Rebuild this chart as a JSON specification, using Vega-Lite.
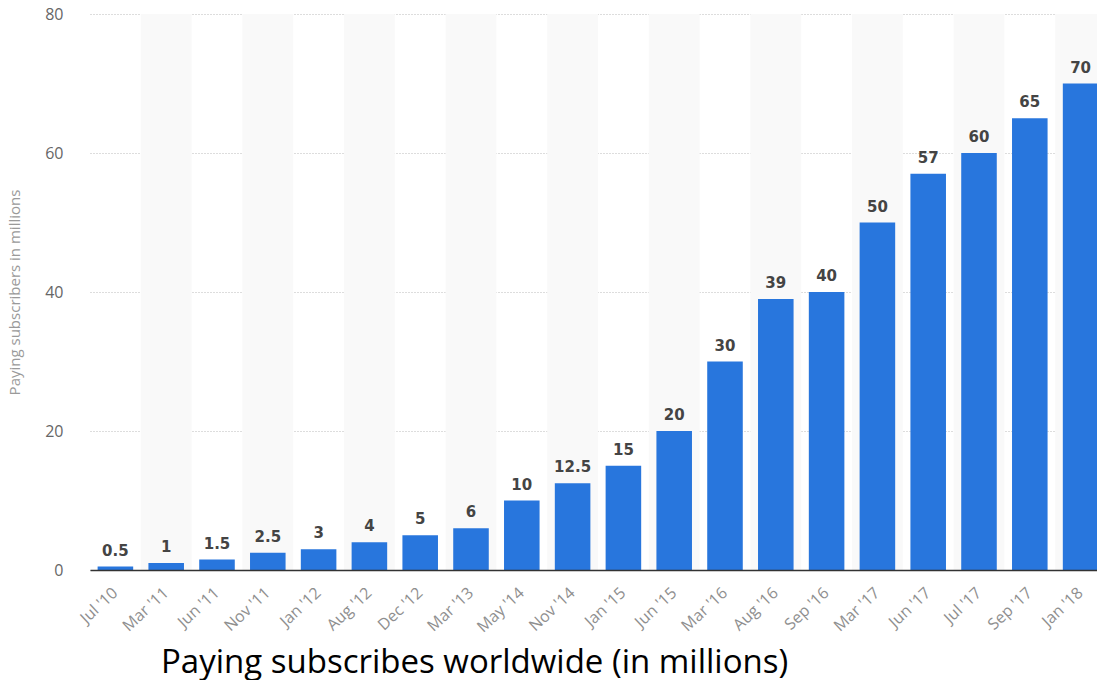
{
  "$schema": "https://vega.github.io/schema/vega-lite/v6.json",
  "width": 1016,
  "height": 556,
  "padding": {"left": 7, "top": 6, "right": 0, "bottom": 0},
  "background": "white",
  "config": {"view": {"stroke": null}},
  "title": {
    "text": "Paying subscribes worldwide (in millions)",
    "orient": "bottom",
    "anchor": "start",
    "frame": "group",
    "dx": 71,
    "offset": 12,
    "font": "Open Sans",
    "fontSize": 33,
    "fontWeight": "normal",
    "color": "#000000"
  },
  "data": {
    "values": [
      {"period": "Jul '10", "subscribers": 0.5},
      {"period": "Mar '11", "subscribers": 1},
      {"period": "Jun '11", "subscribers": 1.5},
      {"period": "Nov '11", "subscribers": 2.5},
      {"period": "Jan '12", "subscribers": 3},
      {"period": "Aug '12", "subscribers": 4},
      {"period": "Dec '12", "subscribers": 5},
      {"period": "Mar '13", "subscribers": 6},
      {"period": "May '14", "subscribers": 10},
      {"period": "Nov '14", "subscribers": 12.5},
      {"period": "Jan '15", "subscribers": 15},
      {"period": "Jun '15", "subscribers": 20},
      {"period": "Mar '16", "subscribers": 30},
      {"period": "Aug '16", "subscribers": 39},
      {"period": "Sep '16", "subscribers": 40},
      {"period": "Mar '17", "subscribers": 50},
      {"period": "Jun '17", "subscribers": 57},
      {"period": "Jul '17", "subscribers": 60},
      {"period": "Sep '17", "subscribers": 65},
      {"period": "Jan '18", "subscribers": 70}
    ]
  },
  "encoding": {
    "x": {
      "field": "period",
      "type": "nominal",
      "sort": null,
      "scale": {
        "domain": ["Jul '10", "Mar '11", "Jun '11", "Nov '11", "Jan '12", "Aug '12", "Dec '12", "Mar '13", "May '14", "Nov '14", "Jan '15", "Jun '15", "Mar '16", "Aug '16", "Sep '16", "Mar '17", "Jun '17", "Jul '17", "Sep '17", "Jan '18"],
        "paddingInner": 0.3,
        "paddingOuter": 0.15
      },
      "axis": {
        "title": null,
        "labelAngle": -43,
        "labelAlign": "right",
        "labelBaseline": "middle",
        "labelPadding": 20,
        "labelFont": "Open Sans",
        "labelFontSize": 16,
        "labelColor": "#8f8f8f",
        "ticks": false,
        "domain": true,
        "domainColor": "#333333",
        "domainWidth": 1.5,
        "grid": false,
        "zindex": 2
      }
    }
  },
  "layer": [
    {
      "transform": [
        {"window": [{"op": "row_number", "as": "idx"}]},
        {"filter": "datum.idx % 2 == 0"}
      ],
      "mark": {"type": "bar", "color": "#f9f9f9", "width": {"band": 1.4286}},
      "encoding": {
        "y": {"datum": 80, "type": "quantitative"},
        "y2": {"datum": 0}
      }
    },
    {
      "mark": {"type": "bar", "color": "#2876dd"},
      "encoding": {
        "y": {
          "field": "subscribers",
          "type": "quantitative",
          "scale": {"domain": [0, 80]},
          "axis": {
            "values": [0, 20, 40, 60, 80],
            "title": "Paying subscribers in millions",
            "titleFont": "Open Sans",
            "titleFontSize": 15,
            "titleFontWeight": "normal",
            "titleColor": "#9a9a9a",
            "titlePadding": 22,
            "labelFont": "Open Sans",
            "labelFontSize": 16,
            "labelColor": "#666666",
            "labelPadding": 27,
            "ticks": false,
            "domain": false,
            "grid": true,
            "gridColor": "#bbbbbb",
            "gridDash": [1, 2],
            "gridWidth": 1
          }
        }
      }
    },
    {
      "mark": {
        "type": "text",
        "baseline": "alphabetic",
        "dy": -11,
        "font": "DejaVu Sans",
        "fontSize": 15,
        "fontWeight": "bold",
        "color": "#444444"
      },
      "encoding": {
        "y": {"field": "subscribers", "type": "quantitative"},
        "text": {"field": "subscribers", "type": "quantitative"}
      }
    }
  ]
}
